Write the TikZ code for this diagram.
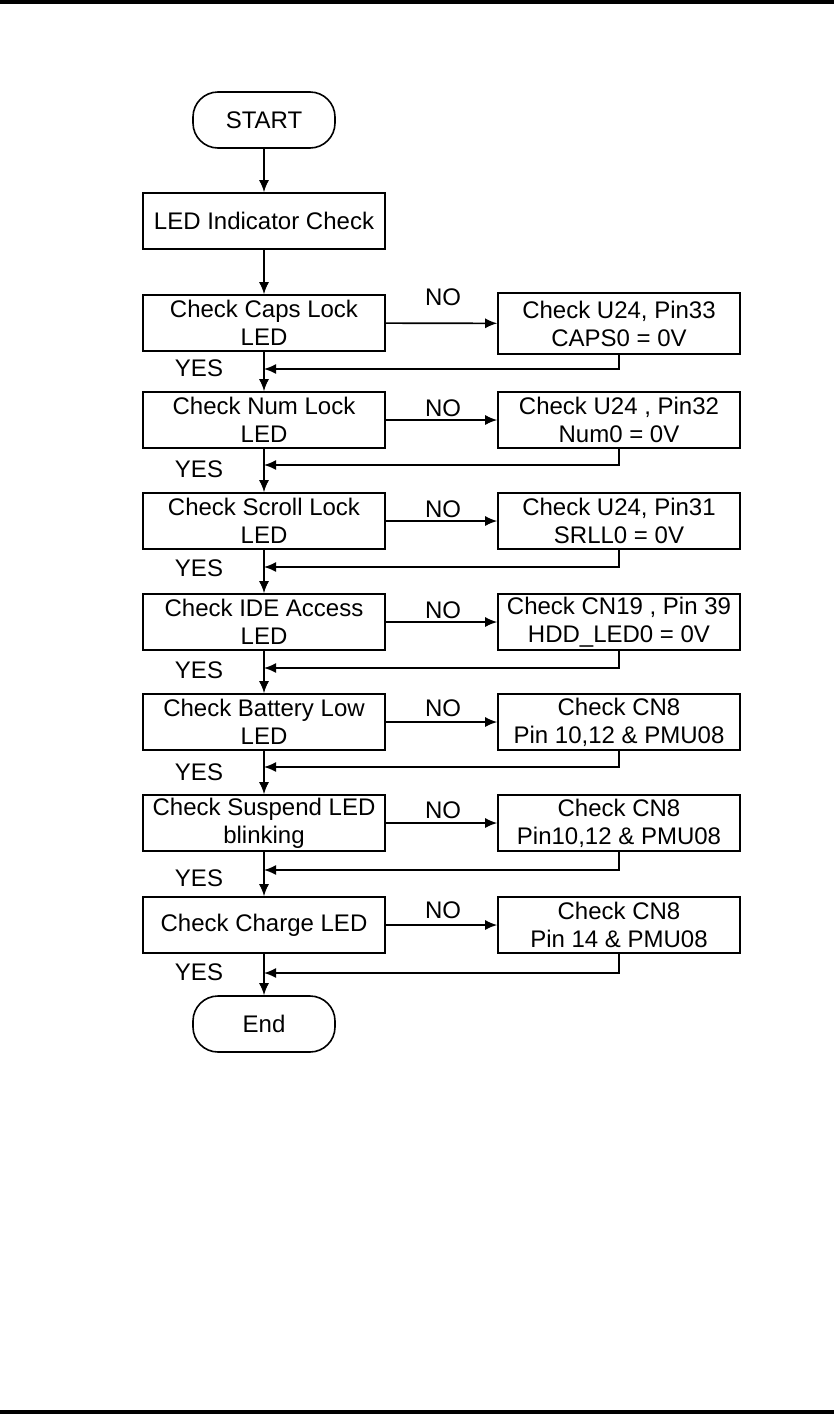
\documentclass[tikz,border=0pt]{standalone}
\usepackage{fontspec}
\setmainfont{Liberation Sans}
\usetikzlibrary{arrows.meta}

\begin{document}
\begin{tikzpicture}[x=0.5pt, y=-0.5pt, line width=0.8pt, >={Latex[length=6pt,width=5pt]}]
\tikzset{every node/.style={font=\fontsize{12}{14}\selectfont},
  term/.style={draw, rounded corners=12.5pt, minimum width=71pt, minimum height=28pt, inner sep=0pt},
  box/.style={draw, align=center, minimum width=121pt, minimum height=28pt, inner sep=0pt},
  lbl/.style={inner sep=0pt}}
\useasboundingbox (0,0) rectangle (834,1414);
\fill (0,0) rectangle (834,4);
\fill (0,1410) rectangle (834,1414);

\node[term] (start) at (264,120) {START};
\node[box] (led) at (264,221) {LED Indicator Check};
\node[box] (caps) at (264,323) {Check Caps Lock\\LED};
\node[box] (num) at (264,420) {Check Num Lock\\LED};
\node[box] (scroll) at (264,521) {Check Scroll Lock\\LED};
\node[box] (ide) at (264,622) {Check IDE Access\\LED};
\node[box] (batt) at (264,722) {Check Battery Low\\LED};
\node[box] (susp) at (264,823) {Check Suspend LED\\blinking};
\node[box] (chg) at (264,925) {Check Charge LED};
\node[term] (stop) at (264,1024) {End};

\node[box, minimum height=30.5pt] (capsfix) at (619,323.5) {Check U24, Pin33\\CAPS0 = 0V};
\node[box] (numfix) at (619,420) {Check U24 , Pin32\\Num0 = 0V};
\node[box] (scrollfix) at (619,521) {Check U24, Pin31\\SRLL0 = 0V};
\node[box] (idefix) at (619,622) {Check CN19 , Pin 39\\HDD\_LED0 = 0V};
\node[box] (battfix) at (619,722) {Check CN8\\Pin 10,12 \& PMU08};
\node[box] (suspfix) at (619,823) {Check CN8\\Pin10,12 \& PMU08};
\node[box] (chgfix) at (619,925) {Check CN8\\Pin 14 \& PMU08};

% where the NO branches come back
\coordinate (capsret) at (264,369);
\coordinate (numret) at (264,465);
\coordinate (scrollret) at (264,567);
\coordinate (ideret) at (264,668);
\coordinate (battret) at (264,767);
\coordinate (suspret) at (264,870);
\coordinate (chgret) at (264,973);

\node[lbl] (capsyes) at (199,368) {YES};
\node[lbl] (numyes) at (199,469) {YES};
\node[lbl] (scrollyes) at (199,568) {YES};
\node[lbl] (ideyes) at (199,670) {YES};
\node[lbl] (battyes) at (199,772) {YES};
\node[lbl] (suspyes) at (199,878) {YES};
\node[lbl] (chgyes) at (199,972) {YES};

\node[lbl] (capsno) at (443,297) {NO};
\node[lbl] (numno) at (443,408) {NO};
\node[lbl] (scrollno) at (443,509) {NO};
\node[lbl] (ideno) at (443,610) {NO};
\node[lbl] (battno) at (443,708) {NO};
\node[lbl] (suspno) at (443,810) {NO};
\node[lbl] (chgno) at (443,910) {NO};

\draw[->] (start) -- (led);
\draw[->] (led) -- (caps);
\draw[->] (caps) -- (num);
\draw[->] (num) -- (scroll);
\draw[->] (scroll) -- (ide);
\draw[->] (ide) -- (batt);
\draw[->] (batt) -- (susp);
\draw[->] (susp) -- (chg);
\draw[->] (chg) -- (stop);

\draw[->] (caps) -- (capsfix);
\draw[->] (num) -- (numfix);
\draw[->] (scroll) -- (scrollfix);
\draw[->] (ide) -- (idefix);
\draw[->] (batt) -- (battfix);
\draw[->] (susp) -- (suspfix);
\draw[->] (chg) -- (chgfix);

\draw[->] (capsfix.south) |- (capsret);
\draw[->] (numfix.south) |- (numret);
\draw[->] (scrollfix.south) |- (scrollret);
\draw[->] (idefix.south) |- (ideret);
\draw[->] (battfix.south) |- (battret);
\draw[->] (suspfix.south) |- (suspret);
\draw[->] (chgfix.south) |- (chgret);
\end{tikzpicture}
\end{document}
